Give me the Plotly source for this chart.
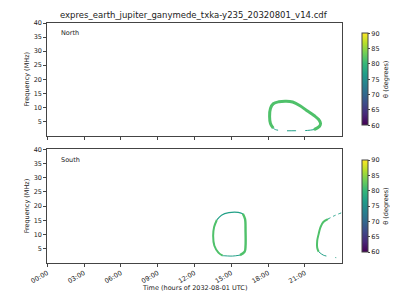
import plotly.graph_objects as go
from plotly.colors import sample_colorscale

title = "expres_earth_jupiter_ganymede_txka-y235_20320801_v14.cdf"
tick_hours = [0, 3, 6, 9, 12, 15, 18, 21]
tick_text = ["00:00", "03:00", "06:00", "09:00", "12:00", "15:00", "18:00", "21:00"]
freq_ticks = [5, 10, 15, 20, 25, 30, 35, 40]
cbar_ticks = [60, 65, 70, 75, 80, 85, 90]

# North hemisphere emission contour (hours, MHz, theta deg)
north_main_t = [18.42, 18.19, 18.12, 18.19, 18.42, 18.87, 19.48, 20.0, 20.6, 21.14, 21.74, 22.12, 22.27, 22.19, 21.74]
north_main_f = [2.6, 4.3, 6.8, 9.6, 11.3, 12.0, 12.2, 11.9, 10.6, 8.9, 7.1, 5.7, 4.3, 3.3, 2.1]
north_main_theta = 81.5
north_low_t = [21.74, 21.2, 20.2, 19.1, 18.6, 18.42]
north_low_f = [2.1, 1.8, 1.7, 1.75, 2.1, 2.6]
north_low_theta = 77.0

# South hemisphere, first contour
south1_left_t = [14.3, 13.95, 13.62, 13.52, 13.6, 13.82]
south1_left_f = [2.5, 3.6, 6.0, 9.5, 12.6, 15.1]
south1_top_t = [13.82, 14.2, 14.8, 15.56, 15.94]
south1_top_f = [15.1, 16.8, 17.7, 17.8, 17.3]
south1_right_t = [15.94, 16.12, 16.16, 16.16, 16.09, 15.71]
south1_right_f = [17.3, 15.4, 11.2, 6.0, 3.9, 2.7]
south1_bot_t = [15.71, 15.1, 14.35, 14.3]
south1_bot_f = [2.7, 2.37, 2.5, 2.5]

# South hemisphere, second contour
south2_up_t = [23.96, 23.4, 22.87]
south2_up_f = [17.6, 16.6, 15.4]
south2_mid_t = [22.87, 22.5, 22.27, 22.12, 22.0, 22.0, 22.12]
south2_mid_f = [15.4, 14.4, 12.6, 10.2, 7.8, 5.3, 3.9]
south2_bot_t = [22.12, 22.5, 23.0, 23.55]
south2_bot_f = [3.9, 2.7, 2.2, 1.8]

theta_green = 81.5
theta_teal = 77.0
theta_min, theta_max = 60, 90


def col(theta):
    return sample_colorscale("Viridis", [(theta - theta_min) / (theta_max - theta_min)])[0]


fig = go.Figure()


def seg(t, f, theta, width, xa, ya, dash="solid"):
    fig.add_trace(go.Scatter(x=t, y=f, mode="lines", xaxis=xa, yaxis=ya,
                             line=dict(color=col(theta), width=width, dash=dash, shape="spline"),
                             showlegend=False, hoverinfo="skip"))


# north
seg(north_main_t, north_main_f, north_main_theta, 3.0, "x", "y")
seg(north_low_t, north_low_f, north_low_theta, 1.0, "x", "y", dash="dash")
# south 1
seg(south1_left_t, south1_left_f, theta_green, 2.0, "x2", "y2")
seg(south1_top_t, south1_top_f, theta_teal, 1.2, "x2", "y2")
seg(south1_right_t, south1_right_f, theta_green, 2.4, "x2", "y2")
seg(south1_bot_t, south1_bot_f, theta_teal, 1.0, "x2", "y2")
# south 2
seg(south2_up_t, south2_up_f, theta_teal, 1.0, "x2", "y2", dash="dot")
seg(south2_mid_t, south2_mid_f, theta_green, 2.0, "x2", "y2")
seg(south2_bot_t, south2_bot_f, theta_teal, 1.0, "x2", "y2", dash="dash")

# colorbar carriers
fig.add_trace(go.Scatter(x=north_main_t, y=north_main_f, mode="markers", xaxis="x", yaxis="y",
                         marker=dict(size=0.1, color=[north_main_theta] * len(north_main_t), coloraxis="coloraxis"),
                         showlegend=False, hoverinfo="skip"))
fig.add_trace(go.Scatter(x=south1_left_t, y=south1_left_f, mode="markers", xaxis="x2", yaxis="y2",
                         marker=dict(size=0.1, color=[theta_green] * len(south1_left_t), coloraxis="coloraxis2"),
                         showlegend=False, hoverinfo="skip"))

font = "DejaVu Sans"
axcol = "#444444"
txt = "#222222"

xcommon = dict(range=[0, 24], tickvals=tick_hours, ticktext=tick_text, ticks="outside", ticklen=3,
               tickcolor=axcol, showline=True, linecolor=axcol, linewidth=1, mirror=True,
               showgrid=False, zeroline=False, tickfont=dict(family=font, size=6.5, color=txt))
ycommon = dict(range=[0, 40], tickvals=freq_ticks, ticks="outside", ticklen=3, tickcolor=axcol,
               showline=True, linecolor=axcol, linewidth=1, mirror=True, showgrid=False,
               zeroline=False, tickfont=dict(family=font, size=6.5, color=txt))

cb_common = dict(thickness=6, thicknessmode="pixels", lenmode="fraction", len=0.38,
                 x=0.9025, xanchor="left", yanchor="middle", outlinecolor=axcol, outlinewidth=1,
                 tickvals=cbar_ticks, ticks="outside", ticklen=2, tickcolor=axcol,
                 tickfont=dict(family=font, size=6.5, color=txt),
                 title=dict(text="θ (degrees)", side="right", font=dict(family=font, size=6.5, color=txt)))

fig.update_layout(
    width=400, height=300, margin=dict(l=0, r=0, t=0, b=0),
    paper_bgcolor="white", plot_bgcolor="white",
    xaxis=dict(domain=[0.079, 0.875], anchor="y", showticklabels=False, **xcommon),
    yaxis=dict(domain=[0.5557, 0.9357], anchor="x", **ycommon),
    xaxis2=dict(domain=[0.079, 0.875], anchor="y2", tickangle=-30, **xcommon),
    yaxis2=dict(domain=[0.1257, 0.509], anchor="x2", **ycommon),
    coloraxis=dict(colorscale="Viridis", cmin=theta_min, cmax=theta_max,
                   colorbar=dict(y=(0.5557 + 0.9357) / 2, **cb_common)),
    coloraxis2=dict(colorscale="Viridis", cmin=theta_min, cmax=theta_max,
                    colorbar=dict(y=(0.1257 + 0.509) / 2, **cb_common)),
    annotations=[
        dict(text=title, x=0.477, y=0.963, xref="paper", yref="paper", showarrow=False,
             font=dict(family=font, size=8.5, color=txt), xanchor="center", yanchor="middle"),
        dict(text="North", x=0.11, y=0.903, xref="paper", yref="paper", showarrow=False,
             font=dict(family=font, size=6.5, color=txt), xanchor="left", yanchor="middle"),
        dict(text="South", x=0.11, y=0.472, xref="paper", yref="paper", showarrow=False,
             font=dict(family=font, size=6.5, color=txt), xanchor="left", yanchor="middle"),
        dict(text="Frequency (MHz)", x=0.025, y=(0.5557 + 0.9357) / 2, xref="paper", yref="paper",
             showarrow=False, textangle=-90, font=dict(family=font, size=6.5, color=txt),
             xanchor="center", yanchor="middle"),
        dict(text="Frequency (MHz)", x=0.025, y=(0.1257 + 0.509) / 2, xref="paper", yref="paper",
             showarrow=False, textangle=-90, font=dict(family=font, size=6.5, color=txt),
             xanchor="center", yanchor="middle"),
        dict(text="Time (hours of 2032-08-01 UTC)", x=0.477, y=0.041, xref="paper", yref="paper",
             showarrow=False, font=dict(family=font, size=6.5, color=txt),
             xanchor="center", yanchor="middle"),
    ],
)

fig.write_html("out.html")
